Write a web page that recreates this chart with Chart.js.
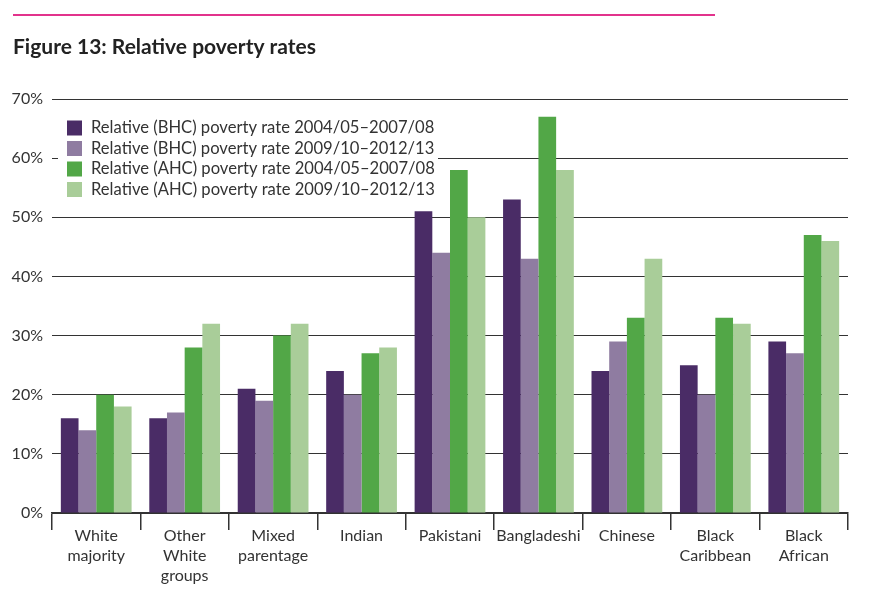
<!DOCTYPE html>
<html>
<head>
<meta charset="utf-8">
<script src="https://cdn.jsdelivr.net/npm/chart.js@4.4.1/dist/chart.umd.min.js"></script>
<style>
html,body{margin:0;padding:0;background:#fff;}
#wrap{width:875px;height:595px;position:relative;}
</style>
</head>
<body>
<div id="wrap"><canvas id="c" width="875" height="595"></canvas></div>
<script>
const categories = [["White","majority"],["Other","White","groups"],["Mixed","parentage"],["Indian"],["Pakistani"],["Bangladeshi"],["Chinese"],["Black","Caribbean"],["Black","African"]];
const bhc0408 = [16,16,21,24,51,53,24,25,29];
const bhc0913 = [14,17,19,20,44,43,29,20,27];
const ahc0408 = [20,28,30,27,58,67,33,33,47];
const ahc0913 = [18,32,32,28,50,58,43,32,46];
const seriesLabels = [
  "Relative (BHC) poverty rate 2004/05\u20132007/08",
  "Relative (BHC) poverty rate 2009/10\u20132012/13",
  "Relative (AHC) poverty rate 2004/05\u20132007/08",
  "Relative (AHC) poverty rate 2009/10\u20132012/13"
];
const seriesColors = ["#4a2c66","#8f7ca1","#52a747","#a9cd99"];
const yTicks = [0,10,20,30,40,50,60,70];
const titleText = "Figure 13: Relative poverty rates";

const FONT = "Lato, 'Open Sans', sans-serif";
const TXT = "#333333";

const decor = {
  id:'decor',
  beforeDraw(chart){
    const ctx = chart.ctx;
    ctx.save();
    ctx.fillStyle = "#e2338c";
    ctx.fillRect(13,14,702,2);
    ctx.fillStyle = "#222222";
    ctx.font = "bold 21px " + FONT;
    ctx.textBaseline = "middle";
    ctx.textAlign = "left";
    ctx.fillText(titleText, 13, 47);
    ctx.restore();
  },
  beforeDatasetsDraw(chart){
    const ctx = chart.ctx;
    ctx.save();
    ctx.fillStyle = "#ffffff";
    ctx.fillRect(58,112,380,86);
    ctx.font = "16.6px " + FONT;
    ctx.textBaseline = "middle";
    ctx.textAlign = "left";
    chart.data.datasets.forEach((ds,i)=>{
      const y = 128 + i*20.5;
      ctx.fillStyle = ds.backgroundColor;
      ctx.fillRect(67, y-7.5, 15, 15);
      ctx.fillStyle = TXT;
      ctx.fillText(ds.label, 91, y);
    });
    ctx.restore();
  }
};

new Chart(document.getElementById('c'), {
  type:'bar',
  data:{
    labels: categories,
    datasets: seriesLabels.map((l,i)=>({
      label:l,
      data:[bhc0408,bhc0913,ahc0408,ahc0913][i],
      backgroundColor:seriesColors[i],
      borderWidth:0,
      categoryPercentage:0.8,
      barPercentage:1.0
    }))
  },
  options:{
    responsive:false,
    animation:false,
    devicePixelRatio:1,
    layout:{padding:{top:99,right:27,left:0,bottom:0}},
    plugins:{legend:{display:false},tooltip:{enabled:false},title:{display:false}},
    scales:{
      x:{
        offset:true,
        grid:{display:true,drawOnChartArea:false,drawTicks:true,tickLength:17,color:"#333333",lineWidth:1.5,offset:true},
        border:{display:true,color:"#333333",width:1.5},
        ticks:{color:TXT,font:{family:FONT,size:16,lineHeight:1.25},padding:-4,maxRotation:0,autoSkip:false},
        afterFit(s){s.height=82;}
      },
      y:{
        min:0,max:70,
        afterBuildTicks(s){s.ticks = yTicks.map(v=>({value:v}));},
        grid:{color:"#333333",lineWidth:1,drawTicks:false},
        border:{display:false},
        ticks:{color:TXT,font:{family:FONT,size:16},padding:9,callback:v=>v+"%"},
        afterFit(s){s.width=52;}
      }
    }
  },
  plugins:[decor]
});
</script>
</body>
</html>
